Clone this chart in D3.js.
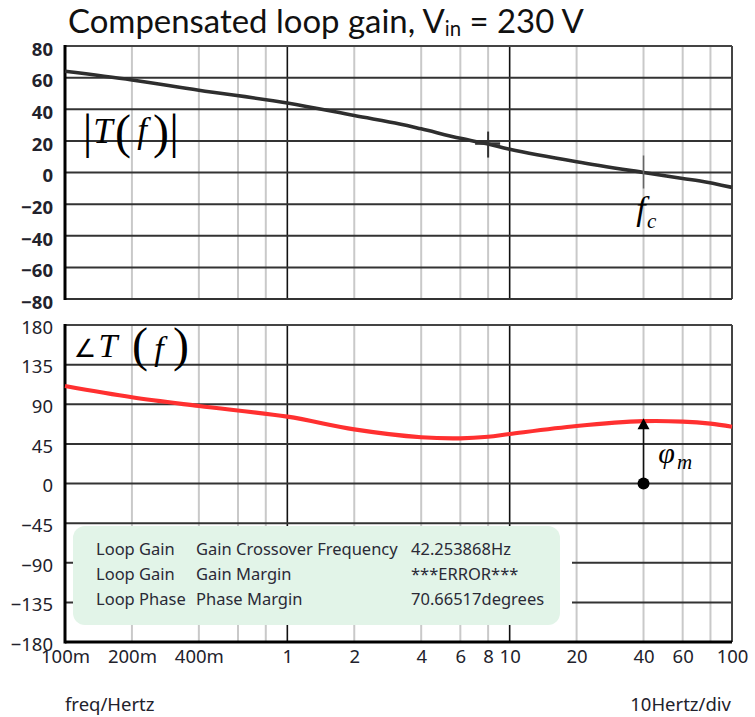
<!DOCTYPE html>
<html><head><meta charset="utf-8">
<script src="https://cdn.jsdelivr.net/npm/d3@7/dist/d3.min.js"></script>
<style>body{margin:0;background:#fff}svg{display:block}</style>
</head><body><svg id="c" width="755" height="717"></svg>
<script>
// ---- data ----
const gainFreqs = [0.1, 0.2, 0.4, 1, 2, 3.2, 4, 6, 8, 10, 20, 40, 60, 72, 100];
const gainDb    = [64, 58.5, 52, 44, 36, 30.7, 27.6, 21.6, 18, 14.7, 6.8, 0, -3.8, -5.4, -9.4];
const phaseFreqs = [0.1, 0.2, 0.4, 1, 2, 4, 6, 8, 10, 20, 40, 60, 80, 100];
const phaseDeg   = [110.7, 97.9, 88, 75.9, 61.5, 52.5, 51.3, 53.1, 56.2, 65.3, 70.8, 70.3, 68.0, 64.5];
const xTicks = [0.1, 0.2, 0.4, 1, 2, 4, 6, 8, 10, 20, 40, 60, 100];
const xTickLabels = ["100m","200m","400m","1","2","4","6","8","10","20","40","60","100"];
const minorFreqs = [0.2, 0.4, 0.6, 0.8, 2, 4, 6, 8, 20, 40, 60, 80];
const decadeFreqs = [1, 10];
const gainTicks = [80, 60, 40, 20, 0, -20, -40, -60, -80];
const phaseTicks = [180, 135, 90, 45, 0, -45, -90, -135, -180];
const legendSignal = ["Loop Gain", "Loop Gain", "Loop Phase"];
const legendMeasure = ["Gain Crossover Frequency", "Gain Margin", "Phase Margin"];
const legendValue = ["42.253868Hz", "***ERROR***", "70.66517degrees"];
const markerFreq = 40;          // f_c / phase margin marker (drawn on the 40 Hz line)
const phaseMargin = 70.66517;
const cursorFreq = 8, cursorGain = 18.3;

// ---- layout ----
const svg = d3.select("#c");
const L = 65, R = 732;
const x = d3.scaleLog().domain([0.1, 100]).range([L, R]);
const yG = d3.scaleLinear().domain([-80, 80]).range([299, 46]);
const yP = d3.scaleLinear().domain([-180, 180]).range([642, 325]);
const labelFont = "'Noto Sans', sans-serif";
const serif = "'Liberation Serif', 'Times New Roman', serif";

svg.append("rect").attr("width", 755).attr("height", 717).attr("fill", "#fff");

function panel(y, ticks) {
  const g = svg.append("g");
  const top = y(ticks[0]), bot = y(ticks[ticks.length - 1]);
  g.selectAll(".minor").data(minorFreqs).join("line")
    .attr("x1", d => x(d)).attr("x2", d => x(d)).attr("y1", top).attr("y2", bot)
    .attr("stroke", "#c9c9c9").attr("stroke-width", 2);
  g.selectAll(".dec").data(decadeFreqs).join("line")
    .attr("x1", d => x(d)).attr("x2", d => x(d)).attr("y1", top).attr("y2", bot)
    .attr("stroke", "#111").attr("stroke-width", 1.6);
  g.selectAll(".h").data(ticks.slice(1, -1)).join("line")
    .attr("x1", L).attr("x2", R).attr("y1", d => y(d)).attr("y2", d => y(d))
    .attr("stroke", "#333").attr("stroke-width", 2);
  g.append("line").attr("x1", L).attr("x2", R).attr("y1", top).attr("y2", top).attr("stroke", "#444").attr("stroke-width", 2);
  g.append("line").attr("x1", R).attr("x2", R).attr("y1", top).attr("y2", bot).attr("stroke", "#444").attr("stroke-width", 2);
  return {g, top, bot};
}

const p1 = panel(yG, gainTicks);
svg.append("line").attr("x1", L).attr("x2", R).attr("y1", p1.bot).attr("y2", p1.bot).attr("stroke", "#333").attr("stroke-width", 2);
svg.append("line").attr("x1", L).attr("x2", L).attr("y1", p1.top - 1).attr("y2", p1.bot + 1).attr("stroke", "#000").attr("stroke-width", 3);

const p2 = panel(yP, phaseTicks);

// legend box (with white halo hiding grid lines)
svg.append("rect").attr("x", 73).attr("y", 526).attr("width", 499).attr("height", 99).attr("fill", "#fff");
svg.append("rect").attr("x", 73).attr("y", 526).attr("width", 487).attr("height", 99).attr("rx", 12)
  .attr("fill", "#e2f4e8");
const lg = svg.append("g").attr("font-family", labelFont).attr("font-size", 16.5).attr("fill", "#2a2a36");
[legendSignal, legendMeasure, legendValue].forEach((col, ci) => {
  const cx = [96, 196, 411][ci];
  lg.selectAll(null).data(col).join("text")
    .attr("x", cx).attr("y", (d, i) => 555 + i * 25).text(d => d);
});

svg.append("line").attr("x1", L).attr("x2", R).attr("y1", p2.bot).attr("y2", p2.bot).attr("stroke", "#000").attr("stroke-width", 3);
svg.append("line").attr("x1", L).attr("x2", L).attr("y1", p2.top - 1).attr("y2", p2.bot + 1.5).attr("stroke", "#000").attr("stroke-width", 3);

// ---- curves ----
const gainLine = d3.line().x(d => x(d[0])).y(d => yG(d[1])).curve(d3.curveCatmullRom);
svg.append("path").datum(gainFreqs.map((f, i) => [f, gainDb[i]]))
  .attr("d", gainLine).attr("fill", "none").attr("stroke", "#2e2e2e").attr("stroke-width", 3.6);
const phaseLine = d3.line().x(d => x(d[0])).y(d => yP(d[1])).curve(d3.curveCatmullRom);
svg.append("path").datum(phaseFreqs.map((f, i) => [f, phaseDeg[i]]))
  .attr("d", phaseLine).attr("fill", "none").attr("stroke", "#ff3030").attr("stroke-width", 4.2);

// cursor cross at 8 Hz
const cx8 = x(cursorFreq), cy8 = yG(cursorGain);
svg.append("line").attr("x1", cx8).attr("x2", cx8).attr("y1", cy8 - 12).attr("y2", cy8 + 14).attr("stroke", "#333").attr("stroke-width", 2);
svg.append("line").attr("x1", cx8 - 13).attr("x2", cx8 + 12).attr("y1", cy8).attr("y2", cy8).attr("stroke", "#333").attr("stroke-width", 2.5);
// fc tick
const xf = x(markerFreq);
svg.append("line").attr("x1", xf).attr("x2", xf).attr("y1", yG(0) - 17).attr("y2", yG(0) + 16).attr("stroke", "#666").attr("stroke-width", 1.5);

// phase margin arrow
const tipY = yP(phaseMargin) - 3;
svg.append("line").attr("x1", xf).attr("x2", xf).attr("y1", yP(0)).attr("y2", tipY + 8).attr("stroke", "#111").attr("stroke-width", 1.5);
svg.append("path").attr("d", `M${xf},${tipY} L${xf - 6},${tipY + 11} L${xf + 6},${tipY + 11} Z`).attr("fill", "#000");
svg.append("circle").attr("cx", xf).attr("cy", yP(0)).attr("r", 6).attr("fill", "#000");

// ---- axes labels ----
const axG = svg.append("g").attr("transform", `translate(${L},0)`)
  .call(d3.axisLeft(yG).tickValues(gainTicks).tickSize(0).tickPadding(12));
axG.select(".domain").remove();
axG.selectAll("text").attr("font-family", labelFont).attr("font-size", 18.5).attr("font-weight", "bold")
  .attr("fill", "#22222c").attr("dy", "0.5em");

const axP = svg.append("g").attr("transform", `translate(${L},0)`)
  .call(d3.axisLeft(yP).tickValues(phaseTicks).tickSize(0).tickPadding(12));
axP.select(".domain").remove();
axP.selectAll("text").attr("font-family", labelFont).attr("font-size", 18.5)
  .attr("fill", "#22222c").attr("dy", "0.45em");

const axX = svg.append("g").attr("transform", `translate(0,${p2.bot})`)
  .call(d3.axisBottom(x).tickValues(xTicks).tickFormat((d, i) => xTickLabels[i]).tickSize(0).tickPadding(8));
axX.select(".domain").remove();
axX.selectAll("text").attr("font-family", labelFont).attr("font-size", 18.5).attr("fill", "#22222c");

svg.append("text").attr("x", 65).attr("y", 711).attr("font-family", labelFont).attr("font-size", 18.5)
  .attr("fill", "#22222c").text("freq/Hertz");
svg.append("text").attr("x", 731).attr("y", 711).attr("text-anchor", "end").attr("font-family", labelFont)
  .attr("font-size", 18.5).attr("fill", "#22222c").text("10Hertz/div");

// ---- title ----
const title = svg.append("text").attr("x", 68).attr("y", 33).attr("font-family", "Lato, 'Open Sans', sans-serif")
  .attr("font-size", 30).attr("fill", "#111");
title.append("tspan").text("Compensated loop gain, V");
title.append("tspan").attr("font-size", "0.62em").attr("dy", 3).text("in");
title.append("tspan").attr("dy", -3).text(" = 230 V");
const tw = title.node().getComputedTextLength();
title.attr("font-size", 30 * 516 / tw);

// ---- math annotations ----
function t(xp, yp, s, size, italic, anchor, fam) {
  return svg.append("text").attr("x", xp).attr("y", yp).attr("font-family", fam || serif)
    .attr("font-size", size).attr("font-style", italic ? "italic" : "normal")
    .attr("text-anchor", anchor || "middle").attr("fill", "#000").text(s);
}
// |T(f)|
t(87.5, 148, "|", 48, false);
t(103, 143, "T", 35, true);
t(123, 148, "(", 48, false);
t(142, 142, "f", 35, true);
t(161, 148, ")", 48, false);
t(174, 148, "|", 48, false);
// ∠T(f)
t(85, 357, "∠", 25, false, "middle", "'DejaVu Sans', serif");
t(108, 357, "T", 34, true);
t(140, 361, "(", 48, false);
t(159, 360, "f", 34, true);
t(181, 361, ")", 48, false);
// f_c
t(641, 220, "f", 34, true);
t(647, 228, "c", 21, true, "start");
// φ_m
t(666.5, 463, "φ", 30, true);
t(677, 469, "m", 21, true, "start");
</script></body></html>
